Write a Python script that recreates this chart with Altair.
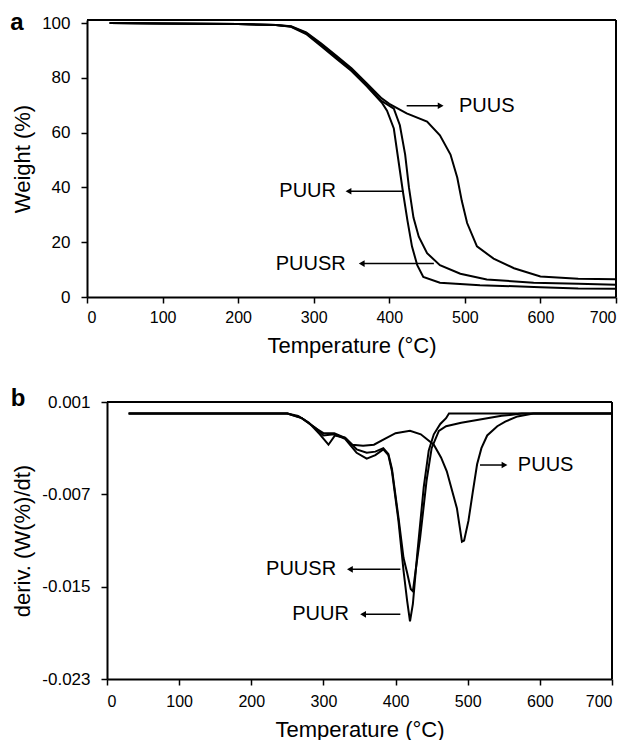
import altair as alt
import pandas as pd

# ---------------- Panel a: TGA (Weight % vs Temperature) ----------------
puus_T = [30, 100, 200, 250, 270, 290, 310, 330, 350, 370, 390, 400, 423, 450, 467, 481, 490, 496, 503, 516, 538, 565, 600, 650, 700]
puus_W = [100, 99.8, 99.6, 99.3, 98.8, 96.6, 92.5, 88, 83.5, 78, 72.5, 70.5, 67, 64, 59, 52, 43.5, 35, 27, 18.5, 14, 10.5, 7.5, 6.7, 6.5]

puur_T = [30, 100, 200, 250, 270, 290, 310, 330, 350, 370, 390, 397, 406, 412, 418, 424, 430, 437, 445, 467, 520, 600, 650, 700]
puur_W = [100, 99.8, 99.6, 99.3, 98.6, 96.0, 91.5, 87, 82.5, 77, 71, 68, 61.5, 50, 38.5, 28, 18.5, 11.6, 7.3, 5.2, 4.3, 3.6, 3.1, 3.0]

puusr_T = [30, 100, 200, 250, 270, 290, 310, 330, 350, 370, 390, 406, 414, 421, 426, 432, 439, 450, 467, 494, 529, 591, 650, 700]
puusr_W = [100, 99.8, 99.6, 99.3, 98.7, 96.3, 92, 87.5, 83, 77.5, 71.5, 68.7, 62.7, 52, 40, 29, 22, 16, 11.6, 8.5, 6.4, 5.2, 4.8, 4.5]

# ---------------- Panel b: DTG (deriv. W%/dt vs Temperature) ----------------
dpuus_T = [30, 250, 265, 280, 295, 307, 316, 330, 340, 355, 370, 385, 400, 420, 435, 453, 463, 471, 485, 492, 495, 501, 507, 513, 519, 527, 541, 552, 569, 591, 700]
dpuus_D = [0, 0, -0.0002, -0.0008, -0.0018, -0.0027, -0.0019, -0.0021, -0.0027, -0.0028, -0.0027, -0.0022,
           -0.0017, -0.0015, -0.0018, -0.0027, -0.0038, -0.005, -0.0082, -0.0111, -0.0110, -0.0093, -0.0068,
           -0.0044, -0.0030, -0.0019, -0.0011, -0.0007, -0.00025, 0.0, 0.0]

dpuur_T = [30, 250, 270, 290, 300, 315, 330, 346, 360, 372, 383, 390, 395, 404, 411, 416, 420, 424, 430, 439, 446, 453, 462, 470, 474, 700]
dpuur_D = [0, 0, -0.0004, -0.0013, -0.0019, -0.0018, -0.0022, -0.0034, -0.0039, -0.0036, -0.0031, -0.0036, -0.005,
           -0.0093, -0.0136, -0.0162, -0.018, -0.0165, -0.0122, -0.0064, -0.0032, -0.0018, -0.0009, -0.0004, 0.0, 0.0]

dpuusr_T = [30, 250, 270, 290, 300, 315, 330, 346, 360, 372, 383, 390, 395, 404, 411, 416, 421, 424, 428, 434, 443, 450, 460, 470, 491, 519, 547, 575, 700]
dpuusr_D = [0, 0, -0.0004, -0.0013, -0.0017, -0.0017, -0.0021, -0.0031, -0.0034, -0.0033, -0.0030, -0.0035, -0.0048,
            -0.009, -0.0125, -0.0138, -0.0152, -0.0154, -0.0135, -0.0108, -0.0058, -0.003, -0.0015, -0.0011, -0.0008,
            -0.0005, -0.0002, 0.0, 0.0]

# ---------------- Annotations ----------------
ann_labels = ["PUUS", "PUUR", "PUUSR"]
ann_a_text_T = [529, 292, 296]
ann_a_text_y = [69.8, 38.6, 12.2]
ann_a_from = [423, 419, 459]
ann_a_to = [472, 342, 359.5]

ann_b_labels = ["PUUS", "PUUSR", "PUUR"]
ann_b_text_T = [608, 269, 296]
ann_b_text_y = [-0.00446, -0.0135, -0.0174]
ann_b_from = [517, 406.6, 406.6]
ann_b_to = [555, 332.7, 351]

panel_letters = ["a", "b"]

FONT = "Liberation Sans"


def series_df(pairs):
    rows = []
    for name, xs, ys in pairs:
        for i, (x, y) in enumerate(zip(xs, ys)):
            rows.append({"series": name, "T": x, "v": y, "i": i})
    return pd.DataFrame(rows)


def ann_df(labels, tx, ty, fr, to):
    rows = []
    for lab, a, b, f, t in zip(labels, tx, ty, fr, to):
        d = 1 if t > f else -1
        rows.append({"label": lab, "tx": a, "ty": b, "f": f, "t": t - d * 3, "h": t - d * 4})
    return pd.DataFrame(rows)


def panel(df, ann, letter, ydomain, yvalues, yformat, ytitle, width, height, inset,
          letter_xy, sw, xlabpad):
    xscale = alt.Scale(domain=[0, 700], nice=False, range=[inset, width])
    yscale = alt.Scale(domain=ydomain, nice=False, zero=False)
    xaxis = alt.Axis(values=list(range(0, 701, 100)), title="Temperature (°C)", grid=False,
                     labelPadding=xlabpad)
    yaxis = alt.Axis(values=yvalues, format=yformat, title=ytitle, grid=False, offset=-inset,
                     labelExpr="replace(datum.label, '−', '-')")

    lines = alt.Chart(df).mark_line(color="black", strokeWidth=sw).encode(
        x=alt.X("T:Q", scale=xscale, axis=xaxis),
        y=alt.Y("v:Q", scale=yscale, axis=yaxis),
        detail="series:N",
        order="i:Q",
    )
    a = alt.Chart(ann)
    shafts = a.mark_rule(color="black", strokeWidth=1.5).encode(
        x=alt.X("f:Q", scale=xscale), x2="t:Q", y=alt.Y("ty:Q", scale=yscale)
    )
    heads_r = a.transform_filter("datum.t > datum.f").mark_point(
        shape="triangle-right", filled=True, color="black", size=45, opacity=1
    ).encode(x=alt.X("h:Q", scale=xscale), y=alt.Y("ty:Q", scale=yscale))
    heads_l = a.transform_filter("datum.t < datum.f").mark_point(
        shape="triangle-left", filled=True, color="black", size=45, opacity=1
    ).encode(x=alt.X("h:Q", scale=xscale), y=alt.Y("ty:Q", scale=yscale))
    texts = a.mark_text(font=FONT, fontSize=20, color="black", align="center", baseline="middle").encode(
        x=alt.X("tx:Q", scale=xscale), y=alt.Y("ty:Q", scale=yscale), text="label:N"
    )
    one = alt.Chart(pd.DataFrame({"L": [letter]}))
    let = one.mark_text(
        font=FONT, fontSize=24, fontWeight="bold", color="black", align="center", baseline="middle"
    ).encode(x=alt.value(letter_xy[0] + inset), y=alt.value(letter_xy[1]), text="L:N")
    frame_top = one.mark_rule(color="black", strokeWidth=2).encode(
        x=alt.value(inset), x2=alt.value(width), y=alt.value(0)
    )
    frame_right = one.mark_rule(color="black", strokeWidth=2).encode(
        x=alt.value(width), y=alt.value(0), y2=alt.value(height)
    )
    return alt.layer(lines, shafts, heads_r, heads_l, texts, let, frame_top, frame_right).properties(
        width=width, height=height
    )


df_a = series_df([("PUUS", puus_T, puus_W), ("PUUR", puur_T, puur_W), ("PUUSR", puusr_T, puusr_W)])
df_b = series_df([("PUUS", dpuus_T, dpuus_D), ("PUUR", dpuur_T, dpuur_D), ("PUUSR", dpuusr_T, dpuusr_D)])

top = panel(df_a, ann_df(ann_labels, ann_a_text_T, ann_a_text_y, ann_a_from, ann_a_to), panel_letters[0],
            [0, 101.1], [0, 20, 40, 60, 80, 100], "d", "Weight (%)", 529, 277, 0, (-70, 3), 2, 6)
bottom = panel(df_b, ann_df(ann_b_labels, ann_b_text_T, ann_b_text_y, ann_b_from, ann_b_to), panel_letters[1],
               [-0.023, 0.001], [-0.023, -0.015, -0.007, 0.001], ".3f", "deriv.  (W(%)/dt)", 525, 277, 20,
               (-89, -3), 2, 8)

chart = alt.vconcat(top, bottom, spacing=31).configure_view(
    strokeWidth=0
).configure_axis(
    domainColor="black", domainWidth=2, tickColor="black", tickWidth=1.5, tickSize=6,
    labelFont=FONT, labelFontSize=16, labelColor="black",
    titleFont=FONT, titleFontSize=22, titleFontWeight="normal", titleColor="black", titlePadding=10
).configure_axisY(labelPadding=11, titlePadding=7, labelFontSize=17).properties(
    background="white", padding={"left": 2, "top": 3, "right": 0, "bottom": 0}
)

chart.save("out.html", embed_options={"renderer": "svg", "actions": False})
